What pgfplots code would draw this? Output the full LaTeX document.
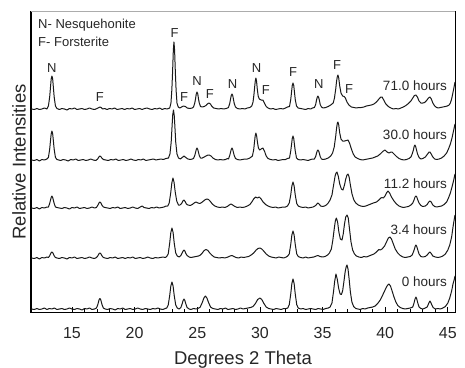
\documentclass[border=0pt]{standalone}
\usepackage{fontspec}
\setmainfont{Liberation Sans}
\usepackage{pgfplots}
\pgfplotsset{compat=1.18}
\definecolor{txt}{gray}{0.15}
\begin{document}
\begin{tikzpicture}
\useasboundingbox (-31pt,-55pt) rectangle (434pt,312pt);
\begin{axis}[
 scale only axis, width=424pt, height=300pt,
 xmin=11.73, xmax=45.57, ymin=0, ymax=300,
 xtick={15,20,...,45}, minor x tick num=4, ytick=\empty,
 xtick pos=lower, tick align=inside,
 major tick length=5pt, minor tick length=3pt,
 axis line style={line width=1pt},
 tick style={line width=0.8pt, black},
 clip mode=individual,
 /pgf/number format/assume math mode=true,
 xticklabel style={font=\fontsize{16}{19}\selectfont, text=txt, anchor=base, yshift=-26.7pt},
 xlabel={Degrees 2 Theta},
 ylabel={Relative Intensities},
 xlabel style={font=\fontsize{18.5}{22}\selectfont, text=txt, at={(axis description cs:0.5,-0.158)}, anchor=center},
 ylabel style={font=\fontsize{18.5}{22}\selectfont, text=txt, at={(axis description cs:-0.0283,0.5)}, anchor=center},
 trace/.style={line width=1pt, black!90, mark=none, line join=round},
]
% 0 hours
\addplot[trace] coordinates {(11.75,3)(12.0,2.5)(12.2,3.5)(12.4,2.5)(12.6,3)(12.8,4)(13.0,2.5)(13.2,3.5)(13.4,3)(13.6,4)(13.8,2.5)(14.0,3)(14.2,3.5)(14.4,2.5)(14.6,3)(14.8,4)(15.0,3)(15.2,2.5)(15.4,3.5)(15.6,3)(15.8,2)(16.0,3.5)(16.2,3)(16.4,4)(16.6,2.5)(16.8,3)(16.95,3.9)(17.05,6.9)(17.11,9.7)(17.17,12.5)(17.23,13.5)(17.29,12.5)(17.35,9.7)(17.41,6.9)(17.51,3.9)(17.65,3)(17.85,2.5)(18.05,3.5)(18.25,3)(18.45,2)(18.65,3.5)(18.85,3)(19.05,4)(19.25,2.5)(19.45,3)(19.65,3.5)(19.85,2.5)(20.05,3)(20.25,4)(20.45,3)(20.65,2.5)(20.85,3.5)(21.05,3)(21.25,2.5)(21.45,3.5)(21.65,3)(21.85,4)(22.05,3)(22.25,2.5)(22.45,3.5)(22.56,4)(22.68,6.8)(22.80,16.5)(22.89,26)(22.98,30)(23.07,26)(23.16,16.5)(23.28,7)(23.40,4)(23.55,3)(23.69,4.5)(23.79,8)(23.87,11.5)(23.94,13)(24.01,11.5)(24.09,8)(24.19,4.5)(24.35,3)(24.5,2.5)(24.7,3.5)(24.9,3)(25.05,3.5)(25.23,4.8)(25.40,9.5)(25.53,14)(25.65,16)(25.77,14)(25.90,9.5)(26.07,4.8)(26.25,3.5)(26.45,3)(26.65,2.5)(26.85,3.5)(27.05,3)(27.25,4)(27.45,2.5)(27.65,3)(27.85,3.5)(28.05,2.5)(28.25,3)(28.45,4)(28.65,3)(28.85,3.5)(29.05,4)(29.25,4.5)(29.45,5.5)(29.64,8.5)(29.82,12.5)(30.0,14)(30.15,12.5)(30.32,8.5)(30.5,5)(30.7,3.5)(30.9,3)(31.1,2.5)(31.3,3.5)(31.5,3)(31.7,2.5)(31.9,3.5)(32.1,3.5)(32.22,4)(32.34,7.2)(32.46,18)(32.55,28.5)(32.64,33)(32.73,28.5)(32.82,18)(32.94,7.2)(33.06,4)(33.25,3)(33.45,3.5)(33.65,2.5)(33.85,3)(34.05,3.5)(34.25,3)(34.45,2.5)(34.65,3.5)(34.85,3)(35.05,2.5)(35.25,3.5)(35.45,4)(35.6,5)(35.75,9)(35.87,20)(35.97,31)(36.07,38)(36.17,33)(36.28,24)(36.4,18)(36.5,17.5)(36.6,21)(36.7,30)(36.8,40)(36.88,45)(36.95,47)(37.03,43)(37.12,33)(37.22,20)(37.34,10)(37.48,5.5)(37.65,3.5)(37.83,3)(38.0,2.5)(38.2,3.5)(38.4,3)(38.6,4)(38.8,4.5)(39.0,5)(39.2,6)(39.4,8.5)(39.6,12)(39.8,17)(39.95,21)(40.1,25)(40.2,27)(40.3,28)(40.42,26)(40.55,21)(40.7,15)(40.85,10)(41.0,6.5)(41.2,4.5)(41.4,3.5)(41.6,3)(41.8,3.5)(42.0,4)(42.2,5)(42.3,9)(42.38,13)(42.45,15)(42.52,13)(42.6,9)(42.7,5)(42.85,3.5)(43.0,3)(43.2,4)(43.35,5)(43.45,8)(43.52,10)(43.57,11)(43.64,9.5)(43.72,7)(43.82,4.5)(44.0,3)(44.2,3.5)(44.4,3)(44.6,4)(44.8,5.5)(45.0,9)(45.15,14)(45.3,21)(45.41,28)(45.5,32)(45.57,36)};
% 3.4 hours
\addplot[trace] coordinates {(11.75,54)(12.0,53.5)(12.2,54.5)(12.4,53)(12.6,54.5)(12.8,54)(13.0,55)(13.12,54.5)(13.22,56.2)(13.28,57.8)(13.34,59.4)(13.4,60)(13.46,59.4)(13.52,57.8)(13.58,56.2)(13.68,54.5)(13.8,54)(14.0,53.5)(14.2,54.5)(14.4,54)(14.6,53)(14.8,54.5)(15.0,54)(15.2,55)(15.4,53.5)(15.6,54)(15.8,54.5)(16.0,53.5)(16.2,54)(16.4,55)(16.6,54)(16.8,53.5)(16.95,54.5)(17.05,55.9)(17.11,57.2)(17.17,58.5)(17.23,59)(17.29,58.5)(17.35,57.2)(17.41,55.9)(17.51,54.5)(17.65,54)(17.85,53.5)(18.05,54.5)(18.25,54)(18.45,55)(18.65,53.5)(18.85,54)(19.05,54.5)(19.25,53.5)(19.45,54.5)(19.65,54)(19.85,55)(20.05,53.5)(20.25,54)(20.45,54.5)(20.65,53.5)(20.85,54)(21.05,55)(21.25,54)(21.45,53.5)(21.65,54.5)(21.85,54)(22.05,54.5)(22.25,55)(22.45,54.5)(22.56,55.5)(22.68,58)(22.80,69)(22.89,79.5)(22.98,84)(23.07,79.5)(23.16,69)(23.28,59)(23.40,56)(23.55,55)(23.69,56.5)(23.79,59)(23.87,61)(23.94,62)(24.01,61)(24.09,58.5)(24.19,56.5)(24.35,55)(24.5,54.5)(24.7,55)(24.9,55.5)(25.1,56)(25.25,57)(25.4,59)(25.55,61.5)(25.7,62.5)(25.85,61.5)(26.0,59)(26.15,57)(26.35,55)(26.55,54.5)(26.75,54)(27.0,54.5)(27.2,54)(27.45,55)(27.62,56)(27.77,56.5)(27.92,55.5)(28.1,54.5)(28.3,54)(28.5,55)(28.7,54.5)(28.9,55)(29.1,55.5)(29.3,57)(29.5,59)(29.7,62)(29.85,63.5)(30.0,64)(30.15,63)(30.3,61)(30.5,58)(30.7,56)(30.9,55)(31.1,54.5)(31.3,54)(31.5,55)(31.7,54.5)(31.9,54)(32.1,55)(32.22,56)(32.34,58)(32.46,67.5)(32.55,77)(32.64,81)(32.73,77)(32.82,67.5)(32.94,58)(33.06,55.5)(33.25,54.5)(33.45,54)(33.65,55)(33.85,54)(34.05,54.5)(34.3,55)(34.5,56)(34.63,56.5)(34.8,55.5)(35.0,55)(35.2,55.5)(35.4,57)(35.55,59)(35.7,63)(35.82,72)(35.94,84)(36.02,91)(36.1,94)(36.2,90)(36.3,80)(36.42,73)(36.55,72)(36.65,78)(36.75,88)(36.85,95)(36.95,97)(37.05,94)(37.15,83)(37.27,70)(37.4,62)(37.55,58)(37.7,56)(37.9,55)(38.1,54.5)(38.3,55.5)(38.5,55)(38.7,56)(38.9,57)(39.1,58)(39.3,60)(39.5,62.5)(39.6,62)(39.75,63)(39.95,66)(40.1,70)(40.25,74)(40.38,75)(40.5,73)(40.65,68)(40.8,63)(41.0,59)(41.2,56.5)(41.42,55)(41.6,54.5)(41.8,55)(42.0,55.5)(42.15,57)(42.25,60)(42.33,63)(42.4,66)(42.45,67)(42.52,65.5)(42.6,62)(42.7,58)(42.85,55.5)(43.0,55)(43.2,55.5)(43.35,57)(43.47,59)(43.57,60)(43.67,58.5)(43.8,56)(44.0,55)(44.2,54.5)(44.4,55)(44.6,56)(44.8,58)(45.0,62)(45.15,67)(45.3,75)(45.41,85)(45.5,92)(45.57,97)};
% 11.2 hours
\addplot[trace] coordinates {(11.75,104)(12.0,103.5)(12.2,104.5)(12.4,103)(12.6,104.5)(12.8,104)(13.0,105)(13.12,105)(13.22,108.5)(13.28,111.5)(13.34,114.5)(13.4,116)(13.46,114.5)(13.52,111.5)(13.58,108.5)(13.68,105)(13.8,104.5)(14.0,104)(14.2,103.5)(14.4,104.5)(14.6,104)(14.8,103)(15.0,104.5)(15.2,104)(15.4,105)(15.6,103.5)(15.8,104)(16.0,104.5)(16.2,103.5)(16.4,104)(16.6,105)(16.8,104)(16.95,104.5)(17.05,106.5)(17.11,107.8)(17.17,109.4)(17.23,110)(17.29,109.4)(17.35,107.8)(17.41,106.5)(17.51,105)(17.65,104.5)(17.85,104)(18.05,103.5)(18.25,104.5)(18.45,104)(18.65,105)(18.85,103.5)(19.05,104)(19.25,104.5)(19.45,103.5)(19.65,104)(19.85,105)(20.05,104)(20.25,103.5)(20.45,105)(20.6,106)(20.75,104.5)(20.95,104)(21.15,103.5)(21.35,104.5)(21.55,104)(21.75,105)(21.95,104)(22.15,104.5)(22.35,105)(22.5,106)(22.64,106)(22.76,109)(22.88,119)(22.97,129)(23.06,134)(23.15,129.5)(23.24,120)(23.36,111)(23.5,107)(23.62,107)(23.75,108.5)(23.85,111)(23.94,112)(24.03,110.5)(24.13,108)(24.25,107)(24.45,106.5)(24.6,107.5)(24.75,109)(24.9,110)(25.05,109)(25.2,108.5)(25.35,109.5)(25.5,111)(25.65,112.5)(25.77,113)(25.9,112.5)(26.05,110.5)(26.2,108)(26.4,106)(26.6,105)(26.8,104.5)(27.0,105)(27.2,104.5)(27.4,105.5)(27.55,107)(27.69,108)(27.83,107)(28.0,105.5)(28.2,104.5)(28.4,105)(28.6,104.5)(28.8,105)(29.0,106)(29.2,107.5)(29.35,110)(29.5,113)(29.65,115)(29.8,114)(29.95,115)(30.1,113)(30.25,110)(30.45,107.5)(30.65,106)(30.85,105)(31.05,104.5)(31.25,105)(31.45,104)(31.65,104.5)(31.85,105)(32.05,105)(32.2,106)(32.34,109)(32.46,117)(32.55,126)(32.64,130)(32.73,126)(32.82,117)(32.94,108.5)(33.06,106)(33.25,105)(33.45,104.5)(33.65,105)(33.85,104)(34.05,104.5)(34.25,105)(34.45,106.5)(34.55,108)(34.63,109)(34.72,108)(34.85,106)(35.0,105.5)(35.15,106)(35.3,107)(35.45,109)(35.6,112)(35.75,117)(35.88,127)(36.0,136)(36.08,139)(36.15,140)(36.25,136)(36.37,128)(36.5,123)(36.63,122)(36.75,127)(36.85,133)(36.95,137)(37.03,138)(37.12,135)(37.22,127)(37.35,118)(37.5,112)(37.65,109)(37.85,107)(38.05,106)(38.25,105.5)(38.45,106)(38.65,107)(38.85,108)(39.05,109)(39.3,110)(39.5,112)(39.65,114)(39.74,114.5)(39.85,114)(39.98,116)(40.1,119)(40.22,121)(40.35,119)(40.5,115)(40.7,111)(40.9,108)(41.1,106)(41.3,105)(41.45,104.5)(41.65,105)(41.85,105.5)(42.05,107)(42.2,109)(42.3,112)(42.38,115)(42.45,116)(42.52,115)(42.6,112)(42.7,109)(42.85,106.5)(43.0,105.5)(43.2,106)(43.35,107.5)(43.47,110)(43.57,111)(43.67,110)(43.8,107)(43.95,105.5)(44.1,105)(44.3,105.5)(44.5,106)(44.7,107.5)(44.9,110)(45.05,114)(45.2,119)(45.35,126)(45.45,131)(45.57,138)};
% 30.0 hours
\addplot[trace] coordinates {(11.75,152)(12.0,151.5)(12.2,152.5)(12.4,151)(12.6,152.5)(12.8,152)(13.0,153)(13.12,154.6)(13.22,162.7)(13.28,170.6)(13.34,178)(13.4,181)(13.46,178)(13.52,170.6)(13.58,162.7)(13.68,154.6)(13.8,152.5)(13.95,152)(14.1,151.5)(14.3,152.5)(14.5,152)(14.7,151)(14.9,152.5)(15.1,152)(15.3,153)(15.5,151.5)(15.7,152)(15.9,152.5)(16.1,151.5)(16.3,152)(16.5,153)(16.7,152)(16.9,151.5)(17.05,153)(17.12,154.5)(17.18,155.5)(17.23,156)(17.3,155.5)(17.38,154)(17.5,152.5)(17.7,152)(17.9,151.5)(18.1,152.5)(18.3,152)(18.5,153)(18.7,151.5)(18.9,152)(19.1,152.5)(19.3,151.5)(19.5,152)(19.7,153)(19.9,152)(20.1,151.5)(20.3,152.5)(20.5,152)(20.7,153)(20.9,151.5)(21.1,152)(21.3,152.5)(21.5,153)(21.7,152)(21.9,152.5)(22.1,153)(22.3,152.5)(22.5,153.5)(22.7,154)(22.82,158)(22.92,170)(22.98,184)(23.04,197)(23.1,202)(23.16,197)(23.22,184)(23.28,170)(23.38,158)(23.5,154)(23.65,153)(23.8,154.5)(23.94,156)(24.08,154.5)(24.25,153)(24.45,152.5)(24.6,153)(24.7,153.5)(24.8,156.5)(24.86,159.5)(24.92,162.5)(24.98,164)(25.04,162.5)(25.1,159.5)(25.16,156.5)(25.26,154)(25.4,154)(25.55,155)(25.7,156)(25.85,157)(25.95,157)(26.1,156)(26.25,154)(26.45,152.5)(26.65,152)(26.85,152.5)(27.05,152)(27.25,152.5)(27.4,153.5)(27.49,153)(27.59,156.5)(27.65,159.5)(27.71,162.5)(27.77,164)(27.83,162.5)(27.89,159.5)(27.95,156.5)(28.05,153.5)(28.2,152.5)(28.4,152)(28.6,152.5)(28.8,153)(29.0,153)(29.2,154)(29.4,156)(29.5,162)(29.56,169)(29.62,176)(29.68,179)(29.74,176)(29.8,170)(29.88,164)(29.98,162)(30.1,163)(30.24,164)(30.36,161)(30.5,156)(30.65,153.5)(30.85,152.5)(31.05,152)(31.25,152.5)(31.45,151.5)(31.65,152)(31.85,152.5)(32.05,152.5)(32.2,153.5)(32.36,154)(32.46,161)(32.52,167)(32.58,173.5)(32.64,176)(32.7,173.5)(32.76,167)(32.82,161)(32.92,154)(33.05,152.5)(33.25,152)(33.45,152.5)(33.65,152)(33.85,151.5)(34.05,152.5)(34.2,153)(34.35,153)(34.45,155.5)(34.51,158.5)(34.57,161)(34.63,162)(34.69,161)(34.75,158.5)(34.81,155.5)(34.91,153)(35.05,152.5)(35.25,153)(35.45,154)(35.65,156)(35.8,159)(35.93,165)(36.05,176)(36.12,184)(36.18,189)(36.23,190)(36.29,187)(36.37,179)(36.47,173)(36.6,171)(36.75,171)(36.9,171.5)(37.03,172)(37.15,169)(37.3,163)(37.45,158)(37.6,155)(37.8,153.5)(38.0,152.5)(38.2,152)(38.4,152.5)(38.6,153)(38.8,153.5)(39.0,154)(39.2,155)(39.4,156)(39.6,158)(39.8,160.5)(39.98,162)(40.15,160)(40.3,159)(40.45,160)(40.54,160)(40.7,158)(40.9,155.5)(41.1,153.5)(41.3,152.5)(41.5,152)(41.7,152.5)(41.9,153.5)(42.05,155)(42.15,158)(42.25,162)(42.31,165.5)(42.37,167)(42.43,165.5)(42.5,162)(42.58,158)(42.7,154.5)(42.85,153)(43.0,153.5)(43.2,155)(43.35,157.5)(43.5,160)(43.57,160)(43.67,158)(43.8,155)(43.95,153)(44.1,152.5)(44.3,153)(44.5,154)(44.7,156)(44.9,159)(45.05,163)(45.2,168)(45.33,174)(45.45,181)(45.57,188)};
% 71.0 hours
\addplot[trace] coordinates {(11.75,203)(12.0,202.5)(12.2,203.5)(12.4,202.5)(12.6,203)(12.8,204)(13.0,203)(13.12,206)(13.22,215)(13.28,224)(13.34,233)(13.4,236)(13.46,233)(13.52,224)(13.58,215)(13.68,206)(13.8,203.5)(14.0,202.5)(14.2,203.5)(14.4,203)(14.6,202)(14.8,203.5)(15.0,203)(15.2,204)(15.4,202.5)(15.6,203)(15.8,203.5)(16.0,202.5)(16.2,203)(16.4,204)(16.6,203)(16.8,202.5)(17.0,203.5)(17.15,204.5)(17.23,205)(17.32,204.5)(17.45,203)(17.6,203.5)(17.8,202.5)(18.0,203.5)(18.2,203)(18.4,204)(18.6,202.5)(18.8,203)(19.0,203.5)(19.2,202.5)(19.4,203.5)(19.6,203)(19.8,204)(20.0,202.5)(20.2,203)(20.4,203.5)(20.6,202.5)(20.8,203.5)(21.0,204)(21.2,203)(21.4,202.5)(21.6,203.5)(21.8,203)(22.0,204)(22.2,202.5)(22.4,203.5)(22.6,203)(22.8,204)(22.9,209)(22.97,222)(23.03,240)(23.09,262)(23.14,270)(23.19,262)(23.25,240)(23.31,222)(23.38,209)(23.48,205)(23.6,204)(23.75,205)(23.9,206)(24.05,205.5)(24.2,204)(24.4,203.5)(24.6,204)(24.7,205)(24.8,209)(24.86,213)(24.92,218)(24.98,220)(25.04,218)(25.1,213)(25.16,209)(25.26,205.5)(25.4,205)(25.55,205.5)(25.7,206.5)(25.8,208)(25.93,209)(26.05,208)(26.15,206)(26.3,204)(26.5,203.5)(26.7,203)(26.9,203.5)(27.1,203)(27.3,203.5)(27.42,204)(27.49,204.5)(27.59,208.5)(27.65,212.5)(27.71,216.5)(27.77,218)(27.83,216.5)(27.89,212.5)(27.95,208.5)(28.05,205)(28.2,203.5)(28.4,203)(28.6,203.5)(28.8,203)(29.0,204)(29.2,204.5)(29.35,206)(29.45,210)(29.52,217)(29.58,225)(29.63,231)(29.68,234)(29.73,231)(29.79,223)(29.86,216)(29.95,213)(30.1,212)(30.24,212)(30.36,209)(30.5,205.5)(30.65,204)(30.85,203)(31.05,203.5)(31.25,202.5)(31.45,203)(31.65,203.5)(31.85,203)(32.05,204)(32.2,205)(32.36,205.5)(32.46,212.5)(32.52,219.5)(32.58,226.5)(32.64,229)(32.7,226.5)(32.76,219.5)(32.82,212.5)(32.92,206)(33.05,204)(33.25,203.5)(33.45,203)(33.65,202.5)(33.85,203.5)(34.05,203)(34.2,204)(34.35,204.5)(34.45,207.5)(34.51,211.5)(34.57,214.5)(34.63,216)(34.69,214.5)(34.75,211.5)(34.81,207.5)(34.91,205)(35.05,204)(35.25,204.5)(35.45,205.5)(35.65,207)(35.85,209)(35.95,214)(36.05,223)(36.12,231)(36.18,235.5)(36.23,237)(36.29,234)(36.37,226)(36.47,219)(36.6,216)(36.72,215.5)(36.82,214)(36.95,210)(37.1,207)(37.3,205)(37.5,204.5)(37.7,204)(37.9,204.5)(38.1,204.5)(38.3,205)(38.5,206)(38.7,206.5)(38.9,207)(39.1,208)(39.3,210)(39.5,213)(39.65,215)(39.75,215)(39.88,212)(40.05,208)(40.25,205.5)(40.45,204)(40.65,203)(40.85,203.5)(41.05,203)(41.25,204)(41.45,205)(41.65,206.5)(41.85,208.5)(42.05,211)(42.2,214)(42.33,216.5)(42.45,217)(42.57,215)(42.7,211)(42.85,209)(43.0,209)(43.15,209.5)(43.3,211.5)(43.45,214)(43.57,215)(43.68,213)(43.8,209)(43.95,206)(44.1,204.5)(44.25,204)(44.4,204.5)(44.6,205)(44.8,205.5)(44.95,206)(45.1,207)(45.2,209)(45.3,213)(45.4,219)(45.48,224)(45.57,230)};
% top frame in grey
\draw[gray!65, line width=1pt] (rel axis cs:0,1) -- (rel axis cs:1,1);
% legend text
\node[anchor=west, inner sep=0pt, text=txt, font=\fontsize{13}{15}\selectfont] at (axis cs:12.29,287) {N- Nesquehonite};
\node[anchor=west, inner sep=0pt, text=txt, font=\fontsize{13}{15}\selectfont] at (axis cs:12.29,270) {F- Forsterite};
% peak labels
\begin{scope}[every node/.style={text=txt, inner sep=0pt, font=\fontsize{13}{15}\selectfont}]
\node at (axis cs:13.40,244) {N};
\node at (axis cs:17.23,215) {F};
\node at (axis cs:23.20,279) {F};
\node at (axis cs:23.94,215) {F};
\node at (axis cs:24.98,231) {N};
\node at (axis cs:26.01,218) {F};
\node at (axis cs:27.82,228) {N};
\node at (axis cs:29.74,244) {N};
\node at (axis cs:30.48,222) {F};
\node at (axis cs:32.64,240) {F};
\node at (axis cs:34.71,228) {N};
\node at (axis cs:36.15,247) {F};
\node at (axis cs:37.11,223) {F};
\end{scope}
% hour labels
\begin{scope}[every node/.style={text=txt, inner sep=0pt, anchor=east, font=\fontsize{13.5}{16}\selectfont}]
\node at (axis cs:44.93,226) {71.0 hours};
\node at (axis cs:44.93,177) {30.0 hours};
\node at (axis cs:44.93,128) {11.2 hours};
\node at (axis cs:44.93,82) {3.4 hours};
\node at (axis cs:44.93,30) {0 hours};
\end{scope}
\end{axis}
\end{tikzpicture}
\end{document}
